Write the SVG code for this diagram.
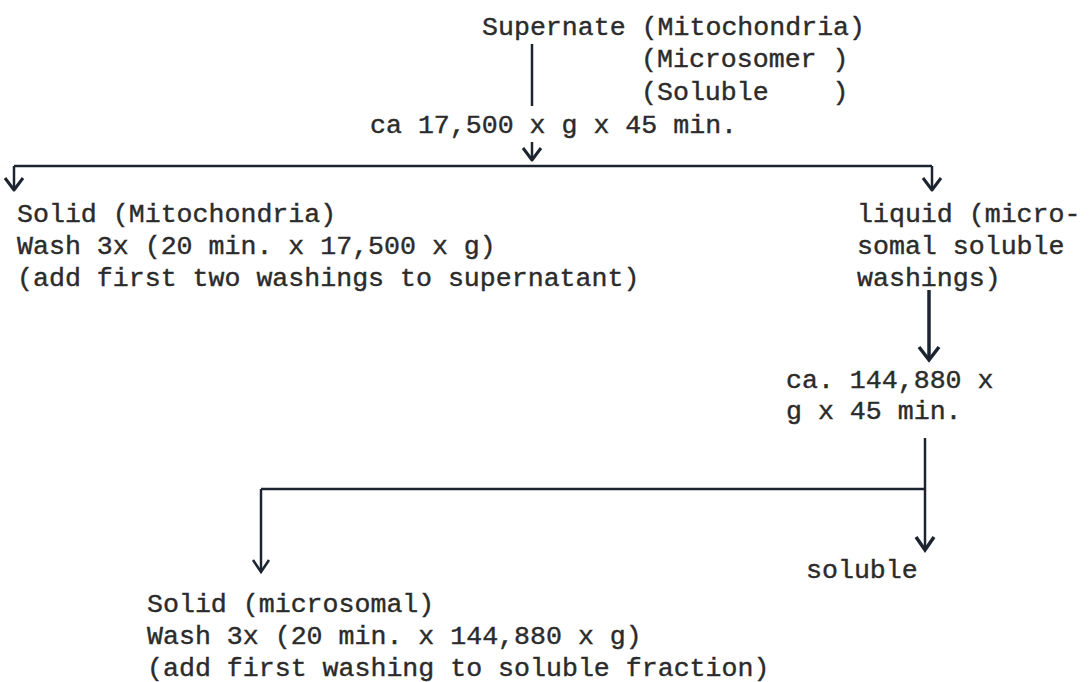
<svg xmlns="http://www.w3.org/2000/svg" width="1091" height="682" viewBox="0 0 1091 682">
<defs>
<style>
text{font-family:"Liberation Mono","DejaVu Sans Mono",monospace;font-size:26.6px;fill:#2b2b2b;stroke:#2b2b2b;stroke-width:0.4;white-space:pre}
.ln{stroke:#1c2430;stroke-width:2.5;fill:none}
.thk{stroke:#1c2430;stroke-width:3.5;fill:none}
.hd{stroke:#1c2430;stroke-width:3;fill:none;stroke-linejoin:round}
</style>
</defs>
<rect width="1091" height="682" fill="#ffffff"/>
<g id="connectors">
<line class="ln" x1="532" y1="44" x2="532" y2="106"/>
<line class="ln" x1="532" y1="142" x2="532" y2="160"/>
<path d="M523,148 L532,160 L541,148" class="hd"/>
<line class="ln" x1="14" y1="166" x2="932" y2="166"/>
<line class="ln" x1="14" y1="166" x2="14" y2="190"/>
<path d="M5,178 L14,190 L23,178" class="hd"/>
<line class="ln" x1="932" y1="166" x2="932" y2="190"/>
<path d="M923,178 L932,190 L941,178" class="hd"/>
<line class="thk" x1="929" y1="290" x2="929" y2="360"/>
<path d="M919,347 L929,360 L939,347" class="thk"/>
<line class="ln" x1="925" y1="438" x2="925" y2="550"/>
<path d="M916,537 L925,550 L934,537" class="thk"/>
<line class="ln" x1="261" y1="489" x2="925" y2="489"/>
<line class="ln" x1="261" y1="489" x2="261" y2="572"/>
<path d="M253,560 L261,572 L269,560" class="ln"/>
</g>
<g id="supernate">
<text x="482" y="35">Supernate (Mitochondria)</text>
<text x="641" y="67">(Microsomer )</text>
<text x="641" y="100">(Soluble    )</text>
</g>
<g id="spin1">
<text x="370" y="133">ca 17,500 x g x 45 min.</text>
</g>
<g id="solid-mito">
<text x="17" y="222">Solid (Mitochondria)</text>
<text x="17" y="254">Wash 3x (20 min. x 17,500 x g)</text>
<text x="17" y="286">(add first two washings to supernatant)</text>
</g>
<g id="liquid">
<text x="857" y="222">liquid (micro-</text>
<text x="857" y="254">somal soluble</text>
<text x="857" y="286">washings)</text>
</g>
<g id="spin2">
<text x="786" y="388">ca. 144,880 x</text>
<text x="786" y="419">g x 45 min.</text>
</g>
<g id="soluble">
<text x="806" y="578">soluble</text>
</g>
<g id="solid-micro">
<text x="147" y="612">Solid (microsomal)</text>
<text x="147" y="644">Wash 3x (20 min. x 144,880 x g)</text>
<text x="147" y="676">(add first washing to soluble fraction)</text>
</g>
</svg>
